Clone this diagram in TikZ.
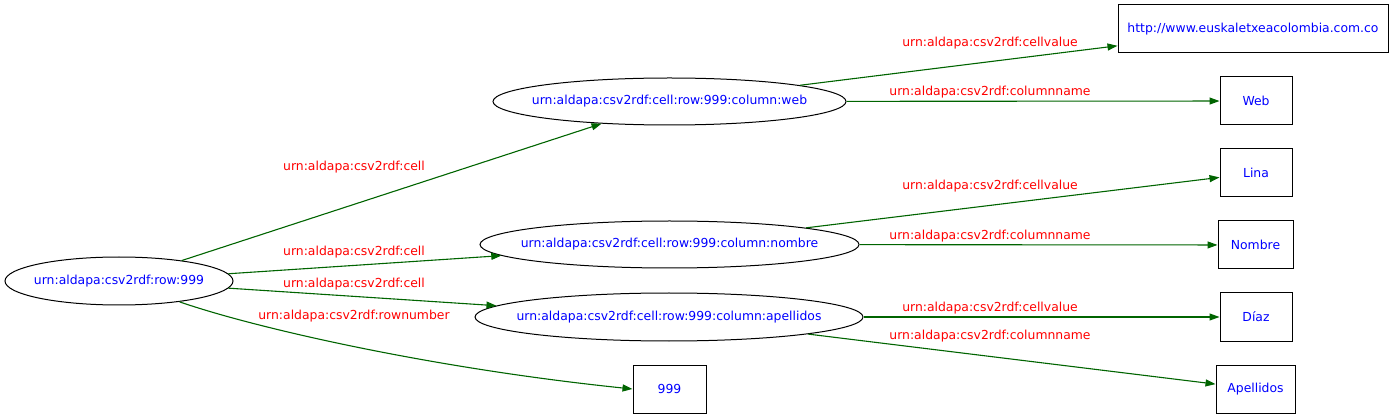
\documentclass[tikz,border=0pt]{standalone}
\usepackage{fontspec}
\setmainfont{DejaVu Sans}
\usetikzlibrary{shapes.geometric,arrows.meta}
\definecolor{edgegreen}{HTML}{006400}
\definecolor{txtblue}{HTML}{0000FF}
\definecolor{lblred}{HTML}{FF0000}
\newcommand{\zw}[1]{\makebox[0pt][c]{#1}}
\begin{document}
\begin{tikzpicture}[x=1pt,y=-1pt,
  every node/.style={font=\fontsize{12.4}{14}\selectfont},
  ell/.style={ellipse,draw=black,line width=1pt,inner sep=0pt,text=txtblue},
  lit/.style={rectangle,draw=black,line width=1pt,inner sep=0pt,minimum height=48pt,text=txtblue},
  edge/.style={draw=edgegreen,line width=1.1pt,-{Triangle[length=10pt,width=7pt]}},
  lbl/.style={text=lblred,inner sep=0pt}]
\useasboundingbox (0,0) rectangle (1399,419);
% resource nodes
\node[ell,minimum width=228pt,minimum height=48pt] (row) at (119,281) {\zw{urn:aldapa:csv2rdf:row:999}};
\node[ell,minimum width=353pt,minimum height=47pt] (web) at (669.5,101.5) {\zw{urn:aldapa:csv2rdf:cell:row:999:column:web}};
\node[ell,minimum width=379pt,minimum height=47pt] (nombre) at (669.5,244.5) {\zw{urn:aldapa:csv2rdf:cell:row:999:column:nombre}};
\node[ell,minimum width=388pt,minimum height=48pt] (apellidos) at (669,317) {\zw{urn:aldapa:csv2rdf:cell:row:999:column:apellidos}};
% literal nodes
\node[lit,minimum width=270pt] (http) at (1253,29) {\zw{http://www.euskaletxeacolombia.com.co}};
\node[lit,minimum width=72pt] (Web) at (1256,101) {Web};
\node[lit,minimum width=72pt] (Lina) at (1256,173) {Lina};
\node[lit,minimum width=75pt] (Nombre) at (1255.5,245) {Nombre};
\node[lit,minimum width=72pt] (Diaz) at (1256,317) {Díaz};
\node[lit,minimum width=79pt] (Apellidos) at (1255.5,389) {Apellidos};
\node[lit,minimum width=73pt] (n999) at (669.5,389) {999};
% edges
\draw[edge] (row) -- (web);
\draw[edge] (row) -- (nombre);
\draw[edge] (row) -- (apellidos);
\draw[edge] (row.-19) .. controls (255,328) and (430,368) .. (n999.west);
\draw[edge] (web) -- (http);
\draw[edge] (web) -- (Web);
\draw[edge] (nombre) -- (Lina);
\draw[edge] (nombre) -- (Nombre);
\draw[edge] (apellidos) -- (Diaz);
\draw[edge] (apellidos) -- (Apellidos);
% edge labels
\node[lbl] (l1) at (354,167) {urn:aldapa:csv2rdf:cell};
\node[lbl] (l2) at (354,252) {urn:aldapa:csv2rdf:cell};
\node[lbl] (l3) at (354,284) {urn:aldapa:csv2rdf:cell};
\node[lbl] (l4) at (354,316) {urn:aldapa:csv2rdf:rownumber};
\node[lbl] (l5) at (990,43) {urn:aldapa:csv2rdf:cellvalue};
\node[lbl] (l6) at (990,92) {urn:aldapa:csv2rdf:columnname};
\node[lbl] (l7) at (990,186) {urn:aldapa:csv2rdf:cellvalue};
\node[lbl] (l8) at (990,236) {urn:aldapa:csv2rdf:columnname};
\node[lbl] (l9) at (990,308) {urn:aldapa:csv2rdf:cellvalue};
\node[lbl] (l10) at (990,336) {urn:aldapa:csv2rdf:columnname};
\end{tikzpicture}
\end{document}
